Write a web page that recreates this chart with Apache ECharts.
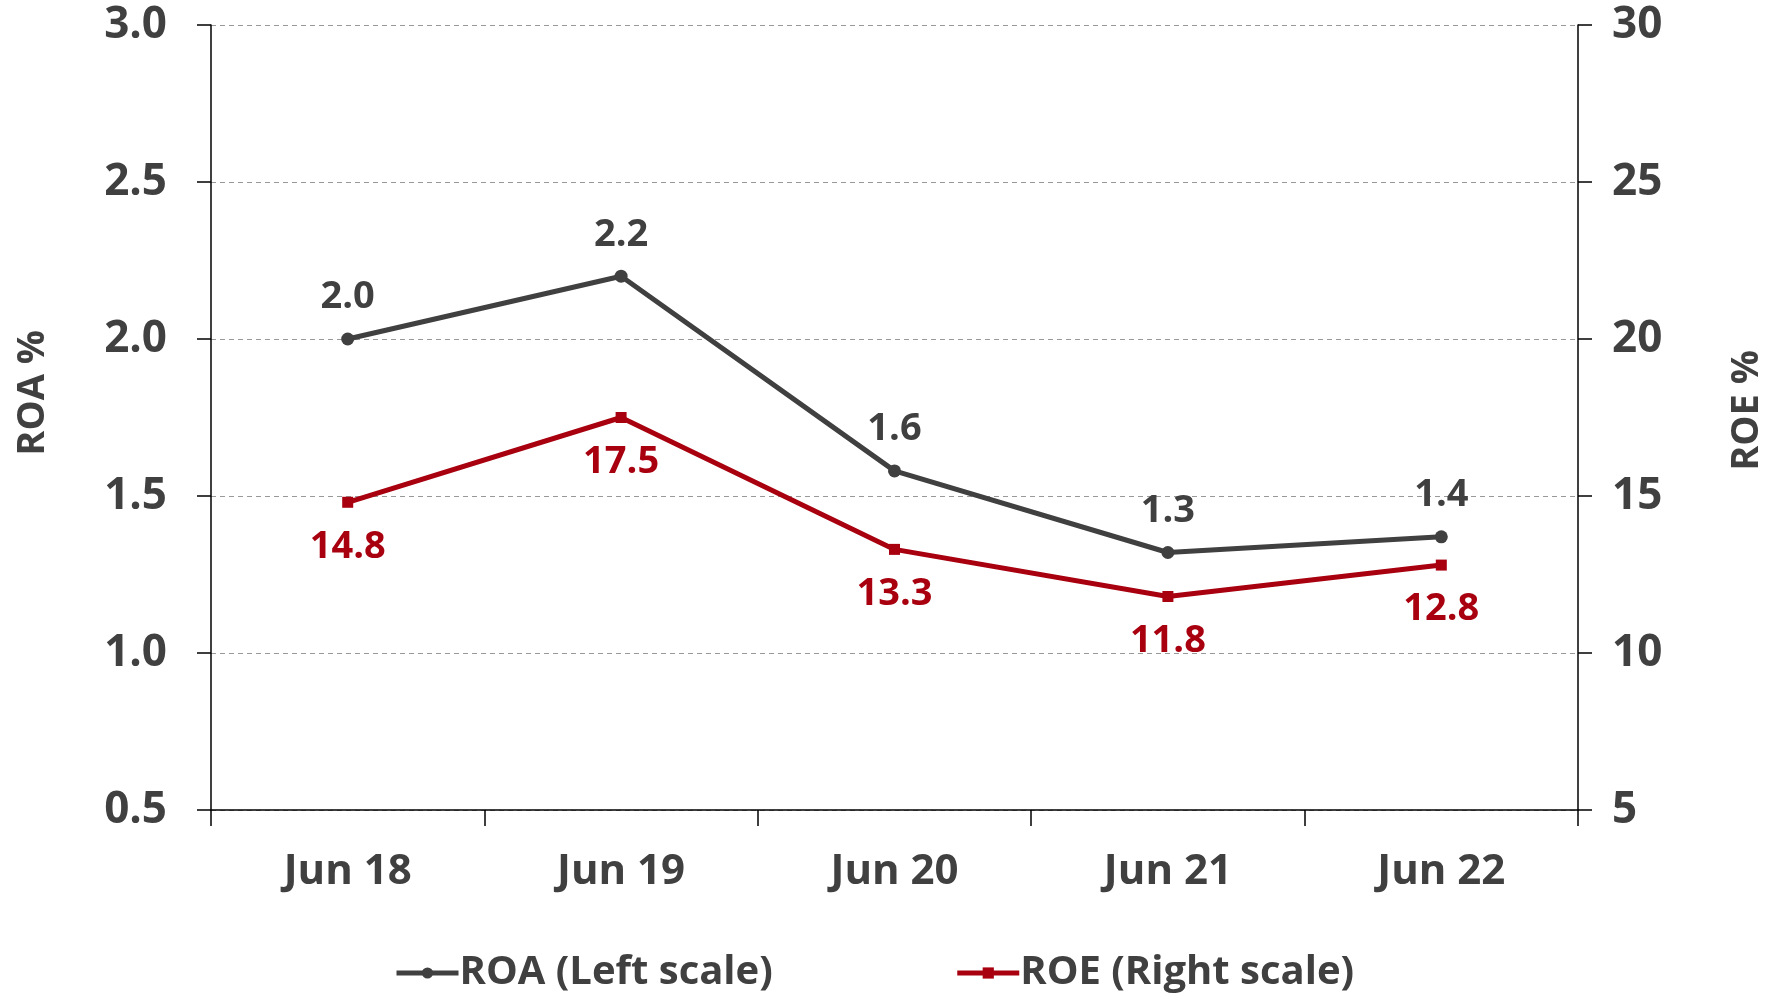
<!DOCTYPE html>
<html>
<head>
<meta charset="utf-8">
<script src="https://cdn.jsdelivr.net/npm/echarts@6/dist/echarts.min.js"></script>
<style>
  html, body { margin: 0; padding: 0; background: #fff; }
  #chart { width: 1776px; height: 1000px; }
</style>
</head>
<body>
<div id="chart"></div>
<script>
// data
const categories = ['Jun 18', 'Jun 19', 'Jun 20', 'Jun 21', 'Jun 22'];
const roaValues = [2.0, 2.2, 1.58, 1.32, 1.37];   // left scale, %
const roeValues = [14.8, 17.5, 13.3, 11.8, 12.8]; // right scale, %

const FONT = '"Liberation Sans Narrow", "Open Sans", sans-serif';
const GREY = '#404040';
const RED = '#A8000F';

const chart = echarts.init(document.getElementById('chart'));

const option = {
  animation: false,
  textStyle: { fontFamily: FONT, fontWeight: 'bold', color: GREY },
  grid: { left: 211, right: 198, top: 25, bottom: 190 },
  legend: {
    top: 948,
    left: 389,
    itemWidth: 62,
    itemHeight: 14,
    itemGap: 182,
    lineStyle: { width: 5 },
    textStyle: { fontFamily: FONT, fontWeight: 'bold', fontSize: 40, color: GREY, padding: [0, 0, 0, -4] },
    data: ['ROA (Left scale)', 'ROE (Right scale)']
  },
  graphic: [
    {
      type: 'text', left: 14, top: 330, rotation: Math.PI / 2,
      style: { text: 'ROA %', font: 'bold 38px ' + FONT, fill: GREY }
    },
    {
      type: 'text', left: 1728, top: 350, rotation: Math.PI / 2,
      style: { text: 'ROE %', font: 'bold 38px ' + FONT, fill: GREY }
    }
  ],
  xAxis: {
    type: 'category',
    data: categories,
    boundaryGap: true,
    axisLine: { lineStyle: { color: '#000', width: 1.5 } },
    axisTick: { show: true, length: 16, lineStyle: { color: '#000', width: 1.5 } },
    axisLabel: { margin: 41, fontSize: 42, fontWeight: 'bold', fontFamily: FONT, color: GREY }
  },
  yAxis: [
    {
      type: 'value',
      min: 0.5, max: 3.0, interval: 0.5,
      axisLine: { show: true, lineStyle: { color: '#000', width: 1.5 } },
      axisTick: { show: true, length: 14, lineStyle: { color: '#000', width: 1.5 } },
      axisLabel: { margin: 44, fontSize: 44, fontWeight: 'bold', fontFamily: FONT, color: GREY,
        formatter: v => v.toFixed(1) },
      splitLine: { show: true, lineStyle: { color: '#999', type: [5, 4], width: 1 } }
    },
    {
      type: 'value',
      min: 5, max: 30, interval: 5,
      position: 'right',
      axisLine: { show: true, lineStyle: { color: '#000', width: 1.5 } },
      axisTick: { show: true, length: 14, lineStyle: { color: '#000', width: 1.5 } },
      axisLabel: { margin: 34, fontSize: 44, fontWeight: 'bold', fontFamily: FONT, color: GREY },
      splitLine: { show: false }
    }
  ],
  series: [
    {
      name: 'ROA (Left scale)',
      type: 'line',
      yAxisIndex: 0,
      data: roaValues,
      symbol: 'circle',
      symbolSize: 13,
      lineStyle: { color: GREY, width: 5 },
      itemStyle: { color: GREY },
      label: {
        show: true, position: 'top', distance: 16,
        fontSize: 38, fontWeight: 'bold', fontFamily: FONT, color: GREY,
        formatter: p => p.value.toFixed(1)
      }
    },
    {
      name: 'ROE (Right scale)',
      type: 'line',
      yAxisIndex: 1,
      data: roeValues,
      symbol: 'rect',
      symbolSize: 11,
      lineStyle: { color: RED, width: 5 },
      itemStyle: { color: RED },
      label: {
        show: true, position: 'bottom', distance: 20,
        fontSize: 38, fontWeight: 'bold', fontFamily: FONT, color: RED,
        formatter: p => p.value.toFixed(1)
      }
    }
  ]
};

chart.setOption(option);
</script>
</body>
</html>
